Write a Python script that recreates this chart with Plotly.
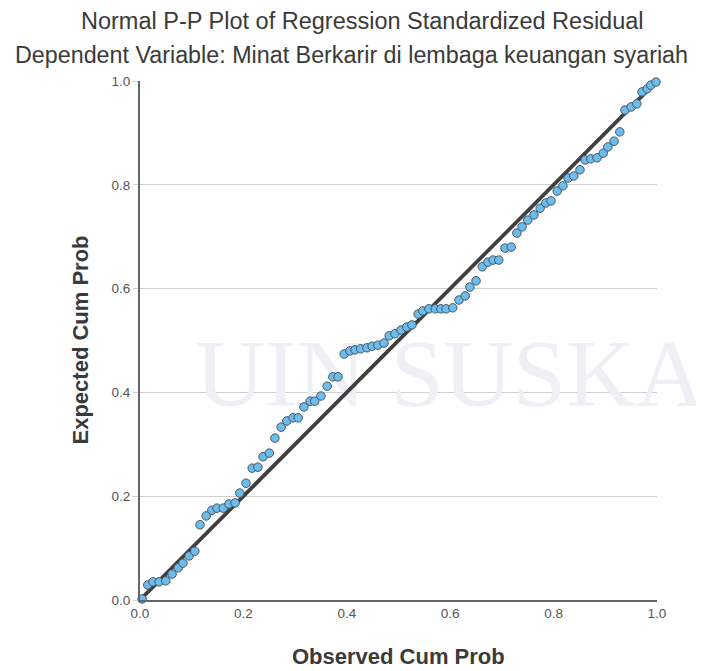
import plotly.graph_objects as go

# Observed cumulative probability (x) and expected cumulative probability (y)
observed_cum_prob = [
    0.004, 0.015, 0.025, 0.037, 0.050, 0.062, 0.074, 0.083, 0.095, 0.106,
    0.116, 0.128, 0.139, 0.149, 0.161, 0.172, 0.184, 0.193, 0.205, 0.217,
    0.228, 0.238, 0.250, 0.261, 0.273, 0.284, 0.296, 0.306, 0.317, 0.329,
    0.338, 0.350, 0.362, 0.373, 0.383, 0.395, 0.406, 0.416, 0.427, 0.439,
    0.449, 0.460, 0.472, 0.482, 0.493, 0.505, 0.516, 0.526, 0.538, 0.547,
    0.559, 0.571, 0.582, 0.592, 0.605, 0.617, 0.629, 0.638, 0.650, 0.662,
    0.673, 0.683, 0.694, 0.706, 0.718, 0.729, 0.739, 0.750, 0.762, 0.774,
    0.785, 0.795, 0.807, 0.818, 0.828, 0.839, 0.851, 0.861, 0.872, 0.884,
    0.896, 0.905, 0.917, 0.928, 0.938, 0.950, 0.961, 0.971, 0.981, 0.988,
    0.998,
]
expected_cum_prob = [
    0.002, 0.029, 0.035, 0.035, 0.037, 0.050, 0.062, 0.071, 0.085, 0.094,
    0.145, 0.162, 0.173, 0.177, 0.177, 0.185, 0.187, 0.206, 0.225, 0.254,
    0.256, 0.276, 0.283, 0.312, 0.333, 0.345, 0.351, 0.351, 0.372, 0.383,
    0.383, 0.393, 0.412, 0.430, 0.430, 0.474, 0.480, 0.482, 0.484, 0.486,
    0.489, 0.491, 0.495, 0.509, 0.513, 0.520, 0.526, 0.530, 0.551, 0.557,
    0.561, 0.561, 0.561, 0.561, 0.563, 0.578, 0.586, 0.603, 0.615, 0.642,
    0.651, 0.655, 0.655, 0.678, 0.680, 0.707, 0.719, 0.732, 0.742, 0.755,
    0.765, 0.769, 0.788, 0.798, 0.813, 0.817, 0.829, 0.848, 0.850, 0.852,
    0.861, 0.873, 0.884, 0.902, 0.944, 0.950, 0.956, 0.979, 0.985, 0.992,
    0.998,
]
reference_line = [0.0, 1.0]
tick_values = [0.0, 0.2, 0.4, 0.6, 0.8, 1.0]
tick_labels = ["0.0", "0.2", "0.4", "0.6", "0.8", "1.0"]

title_line1 = "Normal P-P Plot of Regression Standardized Residual"
title_line2 = "Dependent Variable: Minat Berkarir di lembaga keuangan syariah"
x_title = "Observed Cum Prob"
y_title = "Expected Cum Prob"
watermark_text = "UIN SUSKA"

FONT = "Liberation Sans, Arial, sans-serif"

fig = go.Figure()
# faint watermark seen behind the plot
fig.add_trace(go.Scatter(
    x=[0.6], y=[0.42], mode="text", text=[watermark_text],
    textfont=dict(family="Liberation Serif, DejaVu Serif, serif", size=96, color="#eef0f6"),
    hoverinfo="skip", showlegend=False, cliponaxis=False,
))
fig.add_trace(go.Scatter(
    x=reference_line, y=reference_line, mode="lines",
    line=dict(color="#3f3f3f", width=3.8),
    hoverinfo="skip", showlegend=False, cliponaxis=False,
))
fig.add_trace(go.Scatter(
    x=observed_cum_prob, y=expected_cum_prob, mode="markers",
    marker=dict(size=8.5, color="#6cbcee", line=dict(color="#4a5560", width=1)),
    showlegend=False, cliponaxis=False,
))

fig.update_layout(
    width=696, height=663,
    margin=dict(l=132, r=47, t=73, b=71),
    paper_bgcolor="white", plot_bgcolor="white",
    font=dict(family=FONT, color="#333333"),
    annotations=[
        dict(text=title_line1, xref="paper", yref="paper", x=0, y=1,
             xanchor="center", yanchor="middle", xshift=222, yshift=60, showarrow=False,
             font=dict(size=23.5, color="#3a3a3a", family=FONT)),
        dict(text=title_line2, xref="paper", yref="paper", x=0, y=1,
             xanchor="center", yanchor="middle", xshift=211, yshift=26, showarrow=False,
             font=dict(size=23.3, color="#3a3a3a", family=FONT)),
        dict(text="<b>" + x_title + "</b>", xref="paper", yref="paper", x=0.5, y=0,
             xanchor="center", yanchor="middle", yshift=-56, showarrow=False,
             font=dict(size=22, color="#3a3a3a", family=FONT)),
        dict(text="<b>" + y_title + "</b>", xref="paper", yref="paper", x=0, y=0.5,
             xanchor="center", yanchor="middle", xshift=-60, textangle=-90, showarrow=False,
             font=dict(size=22, color="#3a3a3a", family=FONT)),
    ],
)
fig.update_xaxes(
    range=[0, 1], tickvals=tick_values, ticktext=tick_labels,
    showgrid=False, zeroline=False, showline=True, linecolor="#666666", linewidth=2,
    ticks="", tickfont=dict(size=13.5, color="#555555", family=FONT),
)
fig.update_yaxes(
    range=[0, 1], tickvals=tick_values, ticktext=tick_labels,
    showgrid=True, gridcolor="#cfcfcf", gridwidth=1, zeroline=False,
    showline=True, linecolor="#666666", linewidth=2,
    ticks="outside", ticklen=5, tickcolor="#cfcfcf",
    tickfont=dict(size=13.5, color="#555555", family=FONT),
)

fig.write_html("out.html")
